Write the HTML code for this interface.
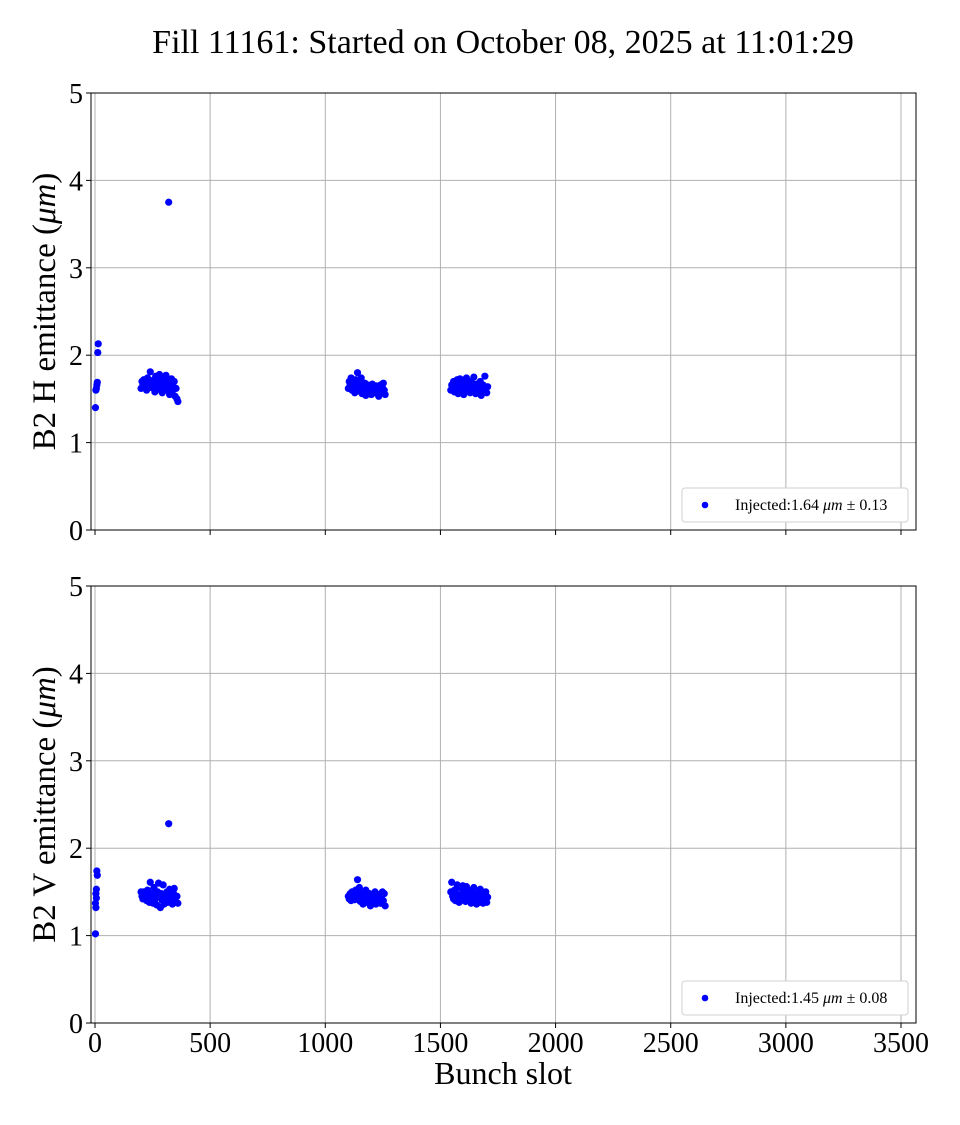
<!DOCTYPE html>
<html><head><meta charset="utf-8"><style>
body{margin:0;background:#fff}
svg text{font-family:"Liberation Serif","DejaVu Serif",serif;fill:#000}
</style></head><body>
<svg id="chart" width="960" height="1120" xmlns="http://www.w3.org/2000/svg">
<text x="503" y="53" font-size="34" text-anchor="middle">Fill 11161: Started on October 08, 2025 at 11:01:29</text>
</svg>
<script>
const xTicks=[0,500,1000,1500,2000,2500,3000,3500];
const yTicks=[0,1,2,3,4,5];
const injSlots=[2,4,6,8,10,12,14];
const injH=[1.40,1.60,1.62,1.66,1.69,2.03,2.13];
const injV=[1.02,1.32,1.37,1.43,1.48,1.53,1.69,1.74];
const injVSlots=[2,4,2,6,4,6,10,8];
const outlierSlot=[320];
const outlierH=[3.75];
const outlierV=[2.28];
const c1Slots=[200,204,208,212,216,220,224,228,232,236,240,244,248,252,256,260,264,268,272,276,280,284,288,292,296,300,304,308,312,316,320,324,328,332,336,340,344,348,352,356,360];
const c1H=[1.62,1.70,1.66,1.72,1.64,1.68,1.60,1.74,1.66,1.70,1.81,1.63,1.69,1.65,1.72,1.58,1.76,1.67,1.61,1.73,1.78,1.64,1.70,1.57,1.75,1.68,1.62,1.77,1.60,1.71,1.66,1.55,1.69,1.73,1.59,1.64,1.70,1.53,1.62,1.50,1.47];
const c1V=[1.50,1.45,1.42,1.50,1.47,1.44,1.40,1.52,1.46,1.38,1.61,1.43,1.48,1.37,1.55,1.41,1.46,1.35,1.50,1.60,1.44,1.32,1.48,1.40,1.58,1.36,1.45,1.42,1.50,1.38,1.47,1.53,1.40,1.44,1.36,1.49,1.54,1.42,1.38,1.45,1.37];
const c2Slots=[1100,1104,1108,1112,1116,1120,1124,1128,1132,1136,1140,1144,1148,1152,1156,1160,1164,1168,1172,1176,1180,1184,1188,1192,1196,1200,1204,1208,1212,1216,1220,1224,1228,1232,1236,1240,1244,1248,1252,1256,1260];
const c2H=[1.62,1.70,1.66,1.74,1.60,1.68,1.65,1.57,1.72,1.63,1.80,1.59,1.67,1.62,1.74,1.56,1.65,1.60,1.68,1.54,1.63,1.66,1.58,1.61,1.64,1.55,1.67,1.60,1.62,1.57,1.65,1.59,1.64,1.53,1.61,1.66,1.58,1.63,1.68,1.60,1.55];
const c2V=[1.45,1.42,1.48,1.40,1.50,1.44,1.47,1.41,1.52,1.43,1.64,1.46,1.55,1.39,1.49,1.44,1.36,1.47,1.42,1.52,1.38,1.45,1.40,1.48,1.34,1.43,1.46,1.38,1.41,1.50,1.36,1.44,1.47,1.39,1.42,1.37,1.45,1.50,1.40,1.48,1.34];
const c3Slots=[1545,1549,1553,1557,1561,1565,1569,1573,1577,1581,1585,1589,1593,1597,1601,1605,1609,1613,1617,1621,1625,1629,1633,1637,1641,1645,1649,1653,1657,1661,1665,1669,1673,1677,1681,1685,1689,1693,1697,1701,1705];
const c3H=[1.60,1.66,1.63,1.70,1.58,1.68,1.64,1.72,1.56,1.67,1.73,1.61,1.69,1.65,1.55,1.71,1.62,1.74,1.59,1.66,1.70,1.57,1.64,1.68,1.60,1.75,1.62,1.56,1.67,1.63,1.58,1.65,1.70,1.54,1.61,1.66,1.59,1.76,1.62,1.57,1.64];
const c3V=[1.50,1.61,1.45,1.42,1.52,1.40,1.48,1.58,1.44,1.38,1.55,1.47,1.41,1.57,1.43,1.50,1.39,1.56,1.45,1.42,1.52,1.47,1.37,1.50,1.44,1.55,1.40,1.46,1.36,1.43,1.49,1.38,1.53,1.41,1.45,1.37,1.47,1.42,1.50,1.38,1.44];
const legendText=["Injected:1.64 ","Injected:1.45 "];
const legendErr=["0.13","0.08"];

const NS="http://www.w3.org/2000/svg";
const svg=document.getElementById('chart');
const L=91,R=916;
const xs=v=>95+v*(806/3500);
function mk(tag,attrs,parent){const e=document.createElementNS(NS,tag);for(const k in attrs)e.setAttribute(k,attrs[k]);(parent||svg).appendChild(e);return e;}
const panels=[
 {top:93,bot:530,label:"B2 H emittance (",series:[[injSlots,injH],[outlierSlot,outlierH],[c1Slots,c1H],[c2Slots,c2H],[c3Slots,c3H]],xl:false,name:'h'},
 {top:586,bot:1023,label:"B2 V emittance (",series:[[injVSlots,injV],[outlierSlot,outlierV],[c1Slots,c1V],[c2Slots,c2V],[c3Slots,c3V]],xl:true,name:'v'}
];
panels.forEach((p,pi)=>{
 const ys=v=>p.bot-(v/5)*(p.bot-p.top);
 const g=mk('g',{});
 
 
 xTicks.forEach(t=>{
  const l=mk('line',{x1:xs(t),x2:xs(t),y1:p.top,y2:p.bot,stroke:'#b0b0b0','stroke-width':1},g);
  
  
  const tk=mk('line',{x1:xs(t),x2:xs(t),y1:p.bot,y2:p.bot+5,stroke:'#000','stroke-width':1},g);
  
  
  if(p.xl){const tx=mk('text',{x:xs(t),y:p.bot+29,'font-size':28,'text-anchor':'middle'},g);tx.textContent=t;
   
   }
 });
 yTicks.forEach(t=>{
  const l=mk('line',{x1:L,x2:R,y1:ys(t),y2:ys(t),stroke:'#b0b0b0','stroke-width':1},g);
  
  
  const tk=mk('line',{x1:L-5,x2:L,y1:ys(t),y2:ys(t),stroke:'#000','stroke-width':1},g);
  
  
  const tx=mk('text',{x:L-8,y:ys(t)+10,'font-size':28,'text-anchor':'end'},g);tx.textContent=t;
  
  
 });
 const fr=mk('rect',{x:L,y:p.top,width:R-L,height:p.bot-p.top,fill:'none',stroke:'#000','stroke-width':1},g);
 
 
 p.series.forEach(([sx,sy])=>{
  const n=Math.min(sx.length,sy.length);
  for(let i=0;i<n;i++){
   const c=mk('circle',{cx:xs(sx[i]),cy:ys(sy[i]),r:3.6,fill:'#0000ff'},g);
   
   
  }
 });
 const cy=(p.top+p.bot)/2;
 const yl=mk('text',{x:0,y:0,'font-size':33,'text-anchor':'middle',transform:`translate(55,${cy}) rotate(-90)`},g);
 
 
 yl.appendChild(document.createTextNode(p.label));
 const it=mk('tspan',{'font-style':'italic'},yl);it.textContent='μm';
 yl.appendChild(document.createTextNode(')'));
 const lg=mk('g',{},g);
 
 
 mk('rect',{x:682,y:p.bot-42,width:226,height:34,rx:3,fill:'#fff',stroke:'#d0d0d0'},lg);
 mk('circle',{cx:705,cy:p.bot-25,r:3.3,fill:'#0000ff'},lg);
 const lt=mk('text',{x:735,y:p.bot-20,'font-size':16},lg);
 
 
 lt.appendChild(document.createTextNode(legendText[pi]));
 const mu=mk('tspan',{'font-style':'italic'},lt);mu.textContent='μm';
 lt.appendChild(document.createTextNode(' ± '+legendErr[pi]));
});
const xt=mk('text',{x:503,y:1084,'font-size':32,'text-anchor':'middle'});
xt.textContent='Bunch slot';


</script>
</body></html>
